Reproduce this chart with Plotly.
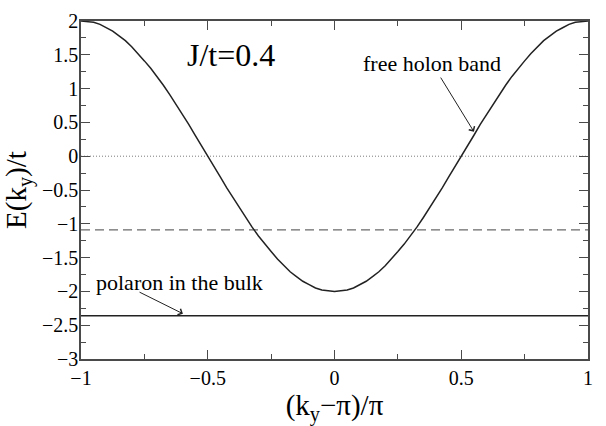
import plotly.graph_objects as go

# Free holon dispersion along k_y, sampled values of E(k_y)/t
k_scaled = [-1.000, -0.975, -0.950, -0.925, -0.900, -0.875, -0.850, -0.825, -0.800, -0.775,
            -0.750, -0.725, -0.700, -0.675, -0.650, -0.625, -0.600, -0.575, -0.550, -0.525,
            -0.500, -0.475, -0.450, -0.425, -0.400, -0.375, -0.350, -0.325, -0.300, -0.275,
            -0.250, -0.225, -0.200, -0.175, -0.150, -0.125, -0.100, -0.075, -0.050, -0.025,
            0.000, 0.025, 0.050, 0.075, 0.100, 0.125, 0.150, 0.175, 0.200, 0.225,
            0.250, 0.275, 0.300, 0.325, 0.350, 0.375, 0.400, 0.425, 0.450, 0.475,
            0.500, 0.525, 0.550, 0.575, 0.600, 0.625, 0.650, 0.675, 0.700, 0.725,
            0.750, 0.775, 0.800, 0.825, 0.850, 0.875, 0.900, 0.925, 0.950, 0.975, 1.000]
holon_energy = [2.00, 1.99, 1.98, 1.95, 1.90, 1.85, 1.78, 1.71, 1.62, 1.52,
                1.41, 1.30, 1.18, 1.05, 0.91, 0.77, 0.62, 0.47, 0.31, 0.16,
                0.00, -0.16, -0.31, -0.47, -0.62, -0.77, -0.91, -1.05, -1.18, -1.30,
                -1.41, -1.52, -1.62, -1.71, -1.78, -1.85, -1.90, -1.95, -1.98, -1.99,
                -2.00, -1.99, -1.98, -1.95, -1.90, -1.85, -1.78, -1.71, -1.62, -1.52,
                -1.41, -1.30, -1.18, -1.05, -0.91, -0.77, -0.62, -0.47, -0.31, -0.16,
                0.00, 0.16, 0.31, 0.47, 0.62, 0.77, 0.91, 1.05, 1.18, 1.30,
                1.41, 1.52, 1.62, 1.71, 1.78, 1.85, 1.90, 1.95, 1.98, 1.99, 2.00]

# Reference levels
zero_level = 0.0
dashed_level = -1.09
polaron_level = -2.36
x_span = [-1.0, 1.0]

x_ticks = [-1, -0.5, 0, 0.5, 1]
x_tick_text = ["\u22121", "\u22120.5", "0", "0.5", "1"]
y_ticks = [-3, -2.5, -2, -1.5, -1, -0.5, 0, 0.5, 1, 1.5, 2]

FONT = "Liberation Serif, Times New Roman, serif"
AXIS_COLOR = "#4a4a4a"

fig = go.Figure()

fig.add_trace(go.Scatter(
    x=x_span, y=[zero_level, zero_level], mode="lines",
    line=dict(color="#7a7a7a", width=1, dash="1px,2px"), showlegend=False))
fig.add_trace(go.Scatter(
    x=x_span, y=[dashed_level, dashed_level], mode="lines",
    line=dict(color="#6a6a6a", width=1.3, dash="9px,5px"), showlegend=False))
fig.add_trace(go.Scatter(
    x=x_span, y=[polaron_level, polaron_level], mode="lines",
    line=dict(color="#222222", width=1.6), showlegend=False))
fig.add_trace(go.Scatter(
    x=k_scaled, y=holon_energy, mode="lines",
    line=dict(color="#222222", width=1.5), showlegend=False))

axis_common = dict(
    showgrid=False, zeroline=False, showline=True, linecolor=AXIS_COLOR,
    linewidth=1.5, mirror="allticks", ticks="inside", ticklen=9,
    tickwidth=1.2, tickcolor=AXIS_COLOR,
    tickfont=dict(family=FONT, size=20, color="black"),
)

fig.update_xaxes(
    range=[-1, 1], tickvals=x_ticks, ticktext=x_tick_text,
    minor=dict(dtick=0.25, ticks="inside", ticklen=5, tickwidth=1.2, tickcolor=AXIS_COLOR),
    title=dict(text="(k<sub>y</sub>\u2212\u03c0)/\u03c0", font=dict(family=FONT, size=29, color="black"),
               standoff=7),
    **axis_common)
fig.update_yaxes(
    range=[-3, 2], tickvals=y_ticks,
    minor=dict(dtick=0.25, ticks="inside", ticklen=5, tickwidth=1.2, tickcolor=AXIS_COLOR),
    ticklabelstandoff=-3,
    title=dict(text="E(k<sub>y</sub>)/t", font=dict(family=FONT, size=29, color="black"),
               standoff=8),
    **axis_common)

text_font = dict(family=FONT, size=22, color="black")
fig.add_annotation(x=-0.408, y=1.49, text="J/t=0.4", showarrow=False,
                   font=dict(family=FONT, size=32, color="black"))
# Label placed at the arrow tail; the arrow runs from the label box to the curve
fig.add_annotation(x=0.550, y=0.362, ax=0.385, ay=1.37, axref="x", ayref="y",
                   text="free holon band", font=text_font,
                   showarrow=True, arrowhead=4, arrowsize=1.3, arrowwidth=1, arrowcolor="#222222")
fig.add_annotation(x=-0.613, y=-1.87, text="polaron in the bulk", showarrow=False, font=text_font)
fig.add_annotation(x=-0.598, y=-2.33, ax=-0.775, ay=-2.0, axref="x", ayref="y", text="",
                   showarrow=True, arrowhead=4, arrowsize=1.3, arrowwidth=1, arrowcolor="#222222")

fig.update_layout(
    width=606, height=426,
    margin=dict(l=81, r=18, t=10, b=62),
    paper_bgcolor="white", plot_bgcolor="white",
    font=dict(family=FONT, color="black"),
)

fig.write_html("out.html")
